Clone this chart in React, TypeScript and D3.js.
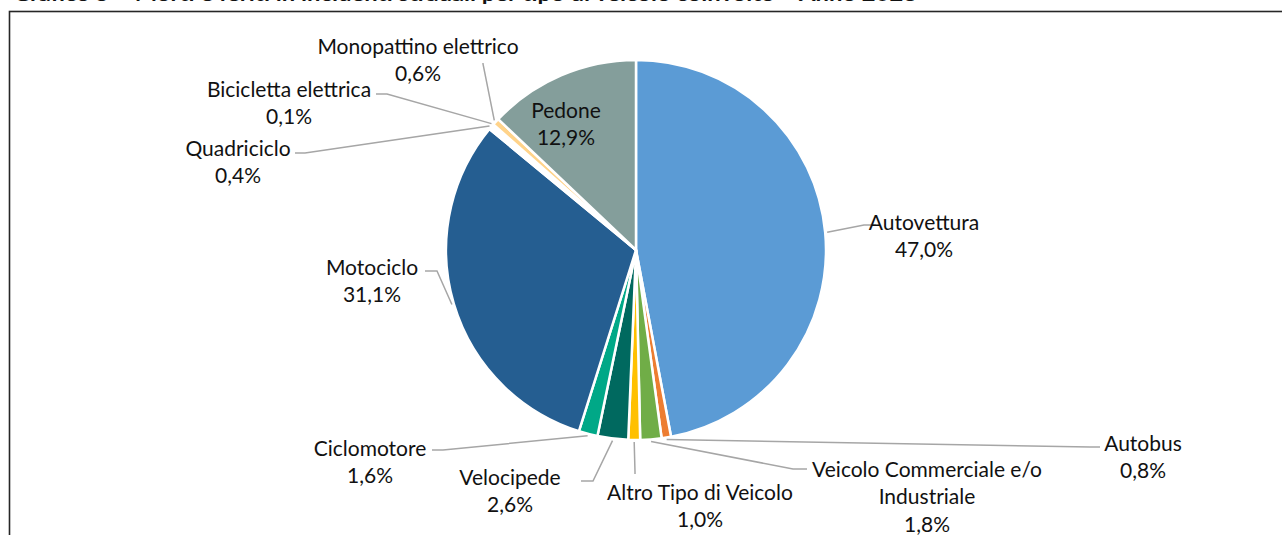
import React from "react";
import * as d3 from "d3";

const categories = [
  "Autovettura",
  "Autobus",
  "Veicolo Commerciale e/o Industriale",
  "Altro Tipo di Veicolo",
  "Velocipede",
  "Ciclomotore",
  "Motociclo",
  "Quadriciclo",
  "Bicicletta elettrica",
  "Monopattino elettrico",
  "Pedone",
];
const values = [47.0, 0.8, 1.8, 1.0, 2.6, 1.6, 31.1, 0.4, 0.1, 0.6, 12.9];
const labelLines = [
  ["Autovettura"],
  ["Autobus"],
  ["Veicolo Commerciale e/o", "Industriale"],
  ["Altro Tipo di Veicolo"],
  ["Velocipede"],
  ["Ciclomotore"],
  ["Motociclo"],
  ["Quadriciclo"],
  ["Bicicletta elettrica"],
  ["Monopattino elettrico"],
  ["Pedone"],
];
const colors = [
  "#5B9BD5",
  "#ED7D31",
  "#70AD47",
  "#FFC000",
  "#00695F",
  "#00A887",
  "#255E91",
  "#FFFFFF",
  "#C55A11",
  "#FFD38A",
  "#849E9B",
];
const titleText =
  "Grafico 5 – Morti e feriti in incidenti stradali per tipo di veicolo coinvolto – Anno 2023";

// layout: label centre, elbow and end of leader line (null = inside label)
const layout: { cx: number; cy: number; elbow: [number, number] | null; end: [number, number] | null }[] = [
  { cx: 924, cy: 221, elbow: [864, 225], end: [876, 225] },
  { cx: 1143, cy: 442, elbow: [1090, 447], end: [1100, 447] },
  { cx: 927, cy: 468, elbow: [793, 469], end: [807, 469] },
  { cx: 700, cy: 491, elbow: [635, 472], end: [635, 474] },
  { cx: 510, cy: 476, elbow: [593, 481], end: [581, 481] },
  { cx: 370, cy: 447, elbow: [443, 450], end: [432, 450] },
  { cx: 372, cy: 266, elbow: [437, 271], end: [425, 271] },
  { cx: 238, cy: 147, elbow: [305, 153], end: [295, 153] },
  { cx: 289, cy: 88, elbow: [387, 94], end: [376, 94] },
  { cx: 418, cy: 45, elbow: [483, 64], end: [483, 63] },
  { cx: 566, cy: 109, elbow: null, end: null },
];

const W = 1282;
const H = 535;
const CX = 636;
const CY = 250;
const R = 190;
const FONT = "Lato, 'Liberation Sans', sans-serif";
const FS = 21;
const LH = 27.5;

export default function App() {
  const pie = d3.pie<number>().sort(null).value((d) => d);
  const arcs = pie(values);
  const arcGen = d3.arc<d3.PieArcDatum<number>>().innerRadius(0).outerRadius(R);
  const fmt = (v: number) => v.toFixed(1).replace(".", ",") + "%";

  return (
    <svg
      width={W}
      height={H}
      style={{ position: "absolute", left: 0, top: 0, background: "#fff" }}
    >
      <rect x={0} y={0} width={W} height={H} fill="#fff" />
      <text
        x={13}
        y={0.5}
        fontFamily={FONT}
        fontWeight="bold"
        fontSize={19}
        fill="#111"
        textLength={904}
        lengthAdjust="spacingAndGlyphs"
      >
        {titleText}
      </text>
      <rect
        x={9.5}
        y={11.5}
        width={1400}
        height={700}
        fill="#fff"
        stroke="#262626"
        strokeWidth={1.6}
      />
      <g transform={`translate(${CX},${CY})`}>
        {arcs.map((a, i) => (
          <path key={i} d={arcGen(a) || ""} fill={colors[i]} stroke="#fff" strokeWidth={2.5} />
        ))}
      </g>
      {arcs.map((a, i) => {
        const L = layout[i];
        if (!L.elbow || !L.end) return null;
        const mid = (a.startAngle + a.endAngle) / 2;
        const sx = CX + Math.sin(mid) * (R + 2);
        const sy = CY - Math.cos(mid) * (R + 2);
        return (
          <polyline
            key={"l" + i}
            points={`${sx},${sy} ${L.elbow[0]},${L.elbow[1]} ${L.end[0]},${L.end[1]}`}
            fill="none"
            stroke="#A6A6A6"
            strokeWidth={1.5}
          />
        );
      })}
      {arcs.map((a, i) => {
        const L = layout[i];
        const lines = [...labelLines[i], fmt(values[i])];
        return (
          <text
            key={"t" + i}
            fontFamily={FONT}
            fontSize={FS}
            fill="#111"
            textAnchor="middle"
          >
            {lines.map((s, k) => (
              <tspan key={k} x={L.cx} y={L.cy + k * LH} dominantBaseline="central">
                {s}
              </tspan>
            ))}
          </text>
        );
      })}
    </svg>
  );
}
